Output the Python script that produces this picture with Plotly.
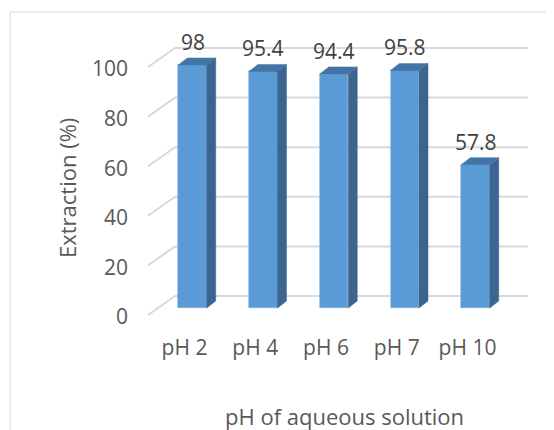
import plotly.graph_objects as go

categories = ["pH 2", "pH 4", "pH 6", "pH 7", "pH 10"]
extraction = [98, 95.4, 94.4, 95.8, 57.8]
y_ticks = [0, 20, 40, 60, 80, 100]

# la página html añade 8px de margen al body
OFF = 8
W, H = 554 - OFF, 430 - OFF

# area de trazado (coordenadas de la imagen de referencia)
PL, PT, PR, PB = 129, 20, 540, 330
plot_w = PR - PL
plot_h = PB - PT

# escalas (px por unidad)
px_x = 70.75
px_y = 2.48
x_start = -(192.5 - PL) / px_x
y_start = -(PB - 308) / px_y
x_range = [x_start, x_start + plot_w / px_x]
y_range = [y_start, y_start + plot_h / px_y]

# efecto 3D, en unidades de datos
bar_w = 28.5 / px_x
dep_x = 9 / px_x
dep_y = 7 / px_y
wall_dy = 12 / px_y
wall_x0 = (175 - 192.5) / px_x
wall_x1 = (528 - 192.5) / px_x
front_dy = -7 / px_y
front_x = (148 - 192.5) / px_x
lab_dx = -8 / px_x
lab_dy = -9 / px_y

FONT = "Open Sans"
GRID = "#d9d9d9"
TXT = "#595959"


def paper_x(px):
    return (px - PL) / plot_w


def paper_y(py):
    return (PB - py) / plot_h


fig = go.Figure()

# caras frontales
xs = list(range(len(categories)))
fig.add_trace(go.Bar(
    x=xs, y=extraction, width=bar_w,
    marker=dict(color="#5b9bd5", line=dict(width=0.6, color="#7fb1e0")),
    hoverinfo="skip",
))

# caras laterales y superiores
for i, v in zip(xs, extraction):
    r = i + bar_w / 2
    l = i - bar_w / 2
    fig.add_trace(go.Scatter(
        x=[r, r + dep_x, r + dep_x, r, r],
        y=[0, dep_y, v + dep_y, v, 0],
        fill="toself", fillcolor="#3b6590", mode="lines",
        line=dict(width=0.5, color="#3b6590"), hoverinfo="skip",
    ))
    fig.add_trace(go.Scatter(
        x=[l, l + dep_x, r + dep_x, r, l],
        y=[v, v + dep_y, v + dep_y, v, v],
        fill="toself", fillcolor="#4275a6", mode="lines",
        line=dict(width=0.5, color="#4275a6"), hoverinfo="skip",
    ))
    fig.add_annotation(
        x=i, y=v + dep_y, text=f"{v:g}", showarrow=False,
        yanchor="middle", yshift=16,
        font=dict(family=FONT, size=21, color="#404040"),
    )

# rejilla en la pared del fondo + diagonales del suelo
for t in y_ticks:
    fig.add_shape(type="line", layer="below",
                  x0=wall_x0, x1=wall_x1, y0=t + wall_dy, y1=t + wall_dy,
                  line=dict(color=GRID, width=2))
    fig.add_shape(type="line", layer="below",
                  x0=front_x, x1=wall_x0, y0=t + front_dy, y1=t + wall_dy,
                  line=dict(color=GRID, width=2))

# borde del gráfico
fig.add_shape(type="line", xref="paper", yref="paper",
              x0=paper_x(10), x1=paper_x(10), y0=paper_y(12), y1=paper_y(440),
              line=dict(color=GRID, width=1))
fig.add_shape(type="line", xref="paper", yref="paper",
              x0=paper_x(10), x1=paper_x(560), y0=paper_y(12), y1=paper_y(12),
              line=dict(color=GRID, width=1))

# titulos de ejes
fig.add_annotation(
    xref="paper", yref="paper", x=paper_x(344), y=paper_y(416),
    text="pH of aqueous solution", showarrow=False,
    xanchor="center", yanchor="middle",
    font=dict(family=FONT, size=22, color=TXT),
)
fig.add_annotation(
    xref="paper", yref="paper", x=paper_x(67), y=paper_y(188),
    text="Extraction (%)", showarrow=False, textangle=-90,
    xanchor="center", yanchor="middle",
    font=dict(family=FONT, size=22, color=TXT),
)

fig.update_xaxes(
    range=x_range, showgrid=False, zeroline=False, showline=False,
    tickvals=[i + lab_dx for i in xs], ticktext=categories,
    ticklabelstandoff=3,
    tickfont=dict(family=FONT, size=21, color=TXT),
)
fig.update_yaxes(
    range=y_range, showgrid=False, zeroline=False, showline=False,
    tickvals=[t + lab_dy for t in y_ticks], ticktext=[str(t) for t in y_ticks],
    tickfont=dict(family=FONT, size=21, color=TXT),
)
fig.update_layout(
    width=W, height=H,
    margin=dict(l=PL - OFF, r=W - (PR - OFF), t=PT - OFF, b=H - (PB - OFF)),
    paper_bgcolor="white", plot_bgcolor="white",
    showlegend=False, bargap=0,
)

fig.write_html("out.html")
